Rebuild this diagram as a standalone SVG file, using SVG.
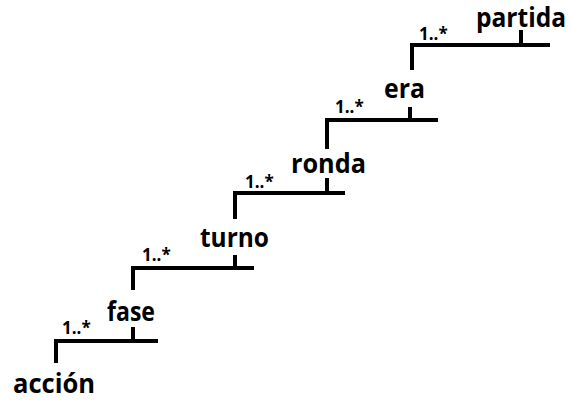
<svg xmlns="http://www.w3.org/2000/svg" width="571" height="401" viewBox="0 0 571 401">
  <style>
    .ln { stroke: #000; stroke-width: 4; fill: none; stroke-linecap: butt; }
    .name { font-family: "Open Sans", "Noto Sans", "Liberation Sans", sans-serif; font-weight: bold; font-size: 26px; fill: #000; }
    .mult { font-family: "Open Sans", "Noto Sans", "Liberation Sans", sans-serif; font-weight: bold; font-size: 17px; fill: #000; }
  </style>
  <rect width="571" height="401" fill="#fff"/>

  <!-- staircase connectors: each step is a riser, a tread and a tick under the upper class -->
  <g id="connectors">
    <path class="ln" d="M56,363 V341 H158 M133,341 V327"/>
    <path class="ln" d="M133,290 V268 H254 M235,268 V255"/>
    <path class="ln" d="M235,219 V193 H345 M327,193 V178"/>
    <path class="ln" d="M327,149 V120 H438 M410,120 V107"/>
    <path class="ln" d="M412,70 V45 H550 M521,45 V30"/>
    <text class="mult" x="62" y="334">1..*</text>
    <text class="mult" x="142" y="261">1..*</text>
    <text class="mult" x="245" y="188">1..*</text>
    <text class="mult" x="335" y="113">1..*</text>
    <text class="mult" x="419" y="40">1..*</text>
  </g>

  <g id="accion"><text class="name" x="13" y="393" textLength="82" lengthAdjust="spacingAndGlyphs">acción</text></g>
  <g id="fase"><text class="name" x="107" y="321" textLength="48" lengthAdjust="spacingAndGlyphs">fase</text></g>
  <g id="turno"><text class="name" x="200" y="247" textLength="69" lengthAdjust="spacingAndGlyphs">turno</text></g>
  <g id="ronda"><text class="name" x="291" y="173" textLength="75" lengthAdjust="spacingAndGlyphs">ronda</text></g>
  <g id="era"><text class="name" x="384" y="98" textLength="41" lengthAdjust="spacingAndGlyphs">era</text></g>
  <g id="partida"><text class="name" x="476" y="27" textLength="90" lengthAdjust="spacingAndGlyphs">partida</text></g>
</svg>
